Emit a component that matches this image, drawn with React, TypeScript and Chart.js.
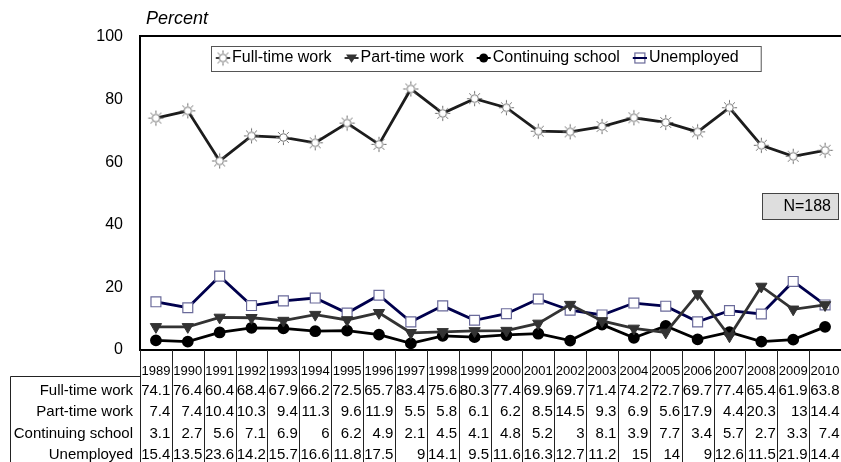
import React, { useEffect, useRef } from 'react';
import { Chart, registerables } from 'chart.js';

Chart.register(...registerables);

const years = ['1989', '1990', '1991', '1992', '1993', '1994', '1995', '1996', '1997', '1998', '1999', '2000', '2001', '2002', '2003', '2004', '2005', '2006', '2007', '2008', '2009', '2010'];
const fullTime = [74.1, 76.4, 60.4, 68.4, 67.9, 66.2, 72.5, 65.7, 83.4, 75.6, 80.3, 77.4, 69.9, 69.7, 71.4, 74.2, 72.7, 69.7, 77.4, 65.4, 61.9, 63.8];
const partTime = [7.4, 7.4, 10.4, 10.3, 9.4, 11.3, 9.6, 11.9, 5.5, 5.8, 6.1, 6.2, 8.5, 14.5, 9.3, 6.9, 5.6, 17.9, 4.4, 20.3, 13, 14.4];
const continuing = [3.1, 2.7, 5.6, 7.1, 6.9, 6, 6.2, 4.9, 2.1, 4.5, 4.1, 4.8, 5.2, 3, 8.1, 3.9, 7.7, 3.4, 5.7, 2.7, 3.3, 7.4];
const unemployed = [15.4, 13.5, 23.6, 14.2, 15.7, 16.6, 11.8, 17.5, 9, 14.1, 9.5, 11.6, 16.3, 12.7, 11.2, 15, 14, 9, 12.6, 11.5, 21.9, 14.4];
const seriesNames = ['Full-time work', 'Part-time work', 'Continuing school', 'Unemployed'];
const yMin = 0;
const yMax = 100;
const yStep = 20;
const axisTitle = 'Percent';
const sampleNote = 'N=188';

const FONT = '"Liberation Sans", Arial, Helvetica, sans-serif';
const lineColors = ['#1c1c1c', '#333333', '#000000', '#00004d'];
const markerKinds = ['sun', 'triangle', 'circle', 'square'];

function makeSun(): HTMLCanvasElement {
  const c = document.createElement('canvas');
  c.width = 17;
  c.height = 17;
  const g = c.getContext('2d') as CanvasRenderingContext2D;
  const cx = 8.5;
  const cy = 8.5;
  g.strokeStyle = '#6e6e6e';
  g.lineWidth = 1;
  g.fillStyle = '#ffffff';
  g.beginPath();
  g.arc(cx, cy, 3.8, 0, Math.PI * 2);
  g.fill();
  g.stroke();
  for (let k = 0; k < 8; k++) {
    const a = (k * Math.PI) / 4;
    g.beginPath();
    g.moveTo(cx + Math.cos(a) * 4.8, cy + Math.sin(a) * 4.8);
    g.lineTo(cx + Math.cos(a) * 7.6, cy + Math.sin(a) * 7.6);
    g.stroke();
  }
  return c;
}

function drawMarker(ctx: CanvasRenderingContext2D, kind: string, x: number, y: number, sun: HTMLCanvasElement) {
  ctx.save();
  if (kind === 'sun') {
    ctx.drawImage(sun, x - sun.width / 2, y - sun.height / 2);
  } else if (kind === 'triangle') {
    ctx.fillStyle = '#333333';
    ctx.beginPath();
    ctx.moveTo(x - 5.5, y - 3.5);
    ctx.lineTo(x + 5.5, y - 3.5);
    ctx.lineTo(x, y + 5);
    ctx.closePath();
    ctx.fill();
  } else if (kind === 'circle') {
    ctx.fillStyle = '#000';
    ctx.beginPath();
    ctx.arc(x, y, 4.5, 0, Math.PI * 2);
    ctx.fill();
  } else if (kind === 'square') {
    ctx.strokeStyle = '#6a6a9a';
    ctx.lineWidth = 1.2;
    ctx.strokeRect(x - 5, y - 5, 10, 10);
    ctx.strokeStyle = '#00004d';
    ctx.lineWidth = 2;
    ctx.beginPath();
    ctx.moveTo(x - 7, y);
    ctx.lineTo(x + 7, y);
    ctx.stroke();
  }
  ctx.restore();
}

export default function App() {
  const ref = useRef<HTMLCanvasElement | null>(null);

  useEffect(() => {
    document.body.style.margin = '0';
    const canvas = ref.current;
    if (!canvas) return;
    const sun = makeSun();
    const tableRows = [fullTime, partTime, continuing, unemployed];

    const overlayPlugin = {
      id: 'overlay',
      afterDraw(chart: any) {
        const { ctx, chartArea, scales } = chart;
        const { left, right, top, bottom } = chartArea;
        const xs = scales.x;
        const n = years.length;
        const colW = (right - left) / n;
        const H = chart.height;
        ctx.save();

        // top frame line
        ctx.strokeStyle = '#000';
        ctx.lineWidth = 2;
        ctx.beginPath();
        ctx.moveTo(left - 1, top - 1);
        ctx.lineTo(right, top - 1);
        ctx.stroke();

        // axis title
        ctx.fillStyle = '#000';
        ctx.font = `italic 18px ${FONT}`;
        ctx.textAlign = 'left';
        ctx.textBaseline = 'alphabetic';
        ctx.fillText(axisTitle, 146, 24);

        // legend
        ctx.font = `16px ${FONT}`;
        const legTop = 46;
        const legBottom = 71;
        const legY = 58;
        const gap = 13;
        let cx = 216;
        const legLeft = 211;
        for (let i = 0; i < seriesNames.length; i++) {
          ctx.strokeStyle = lineColors[i];
          ctx.lineWidth = 2;
          ctx.beginPath();
          ctx.moveTo(cx, legY);
          ctx.lineTo(cx + 14, legY);
          ctx.stroke();
          drawMarker(ctx, markerKinds[i], cx + 7, legY, sun);
          ctx.fillStyle = '#000';
          ctx.textAlign = 'left';
          ctx.textBaseline = 'middle';
          ctx.fillText(seriesNames[i], cx + 16, legY);
          cx += 16 + ctx.measureText(seriesNames[i]).width + gap;
        }
        const legRight = cx - gap + 22;
        ctx.strokeStyle = '#555';
        ctx.lineWidth = 1;
        ctx.strokeRect(legLeft + 0.5, legTop + 0.5, legRight - legLeft, legBottom - legTop);

        // N box
        ctx.fillStyle = '#dedede';
        ctx.fillRect(762, 193, 76, 26);
        ctx.strokeStyle = '#444';
        ctx.strokeRect(762.5, 193.5, 76, 26);
        ctx.fillStyle = '#000';
        ctx.textAlign = 'right';
        ctx.textBaseline = 'middle';
        ctx.fillText(sampleNote, 831, 206.5);

        // data table
        ctx.strokeStyle = '#222';
        ctx.lineWidth = 1;
        for (let i = 0; i <= n; i++) {
          const px = i < n ? xs.getPixelForValue(i) - colW / 2 : xs.getPixelForValue(n - 1) + colW / 2;
          const lx = Math.round(px) + 0.5;
          ctx.beginPath();
          ctx.moveTo(lx, bottom);
          ctx.lineTo(lx, H);
          ctx.stroke();
        }
        ctx.beginPath();
        ctx.moveTo(10.5, H);
        ctx.lineTo(10.5, 376.5);
        ctx.lineTo(left, 376.5);
        ctx.stroke();

        ctx.fillStyle = '#000';
        ctx.font = `13px ${FONT}`;
        ctx.textAlign = 'center';
        ctx.textBaseline = 'alphabetic';
        for (let i = 0; i < n; i++) {
          ctx.fillText(years[i], xs.getPixelForValue(i), 375);
        }
        ctx.font = `15px ${FONT}`;
        const baselines = [394.5, 416, 437.5, 459];
        for (let r = 0; r < tableRows.length; r++) {
          ctx.textAlign = 'right';
          ctx.fillText(seriesNames[r], 133, baselines[r]);
          for (let i = 0; i < n; i++) {
            const cr = xs.getPixelForValue(i) + colW / 2 - 1.5;
            ctx.fillText(String(tableRows[r][i]), cr, baselines[r]);
          }
        }
        ctx.restore();
      },
    };

    const chart = new Chart(canvas, {
      type: 'line',
      data: {
        labels: years,
        datasets: [
          {
            label: seriesNames[0],
            data: fullTime,
            borderColor: lineColors[0],
            borderWidth: 2.8,
            pointStyle: sun as any,
            pointRadius: 7,
            tension: 0,
          },
          {
            label: seriesNames[1],
            data: partTime,
            borderColor: lineColors[1],
            borderWidth: 2.8,
            pointStyle: 'triangle',
            rotation: 180,
            pointRadius: 6.5,
            pointBackgroundColor: '#333333',
            pointBorderColor: '#333333',
            pointBorderWidth: 1,
            tension: 0,
          } as any,
          {
            label: seriesNames[2],
            data: continuing,
            borderColor: lineColors[2],
            borderWidth: 2.8,
            pointStyle: 'circle',
            pointRadius: 4.5,
            pointBackgroundColor: '#000',
            pointBorderColor: '#000',
            tension: 0,
          },
          {
            label: seriesNames[3],
            data: unemployed,
            borderColor: lineColors[3],
            borderWidth: 2.8,
            pointStyle: 'rect',
            pointRadius: 7,
            pointBackgroundColor: '#ffffff',
            pointBorderColor: '#6a6a9a',
            pointBorderWidth: 1.2,
            tension: 0,
          },
        ],
      },
      options: {
        responsive: false,
        animation: false,
        devicePixelRatio: 1,
        layout: { padding: { top: 37, bottom: 112, left: 0, right: 0 }, autoPadding: false } as any,
        plugins: {
          legend: { display: false },
          title: { display: false },
          tooltip: { enabled: false },
        },
        scales: {
          x: {
            type: 'category',
            offset: true,
            grid: { display: false, drawTicks: false },
            ticks: { display: false },
            border: { display: true, color: '#000', width: 2 },
            afterFit: (s: any) => {
              s.height = 0;
            },
          },
          y: {
            min: yMin,
            max: yMax,
            grid: { display: false, drawTicks: false },
            border: { display: true, color: '#000', width: 2 },
            ticks: {
              stepSize: yStep,
              padding: 17,
              color: '#000',
              font: { family: FONT, size: 16 },
            },
            afterFit: (s: any) => {
              s.width = 140;
            },
          },
        },
      },
      plugins: [overlayPlugin],
    });

    return () => {
      chart.destroy();
    };
  }, []);

  return (
    <div style={{ position: 'fixed', left: 0, top: 0, width: 841, height: 462, overflow: 'hidden', background: '#fff' }}>
      <canvas ref={ref} width={841} height={462} style={{ width: 841, height: 462, display: 'block' }} />
    </div>
  );
}
